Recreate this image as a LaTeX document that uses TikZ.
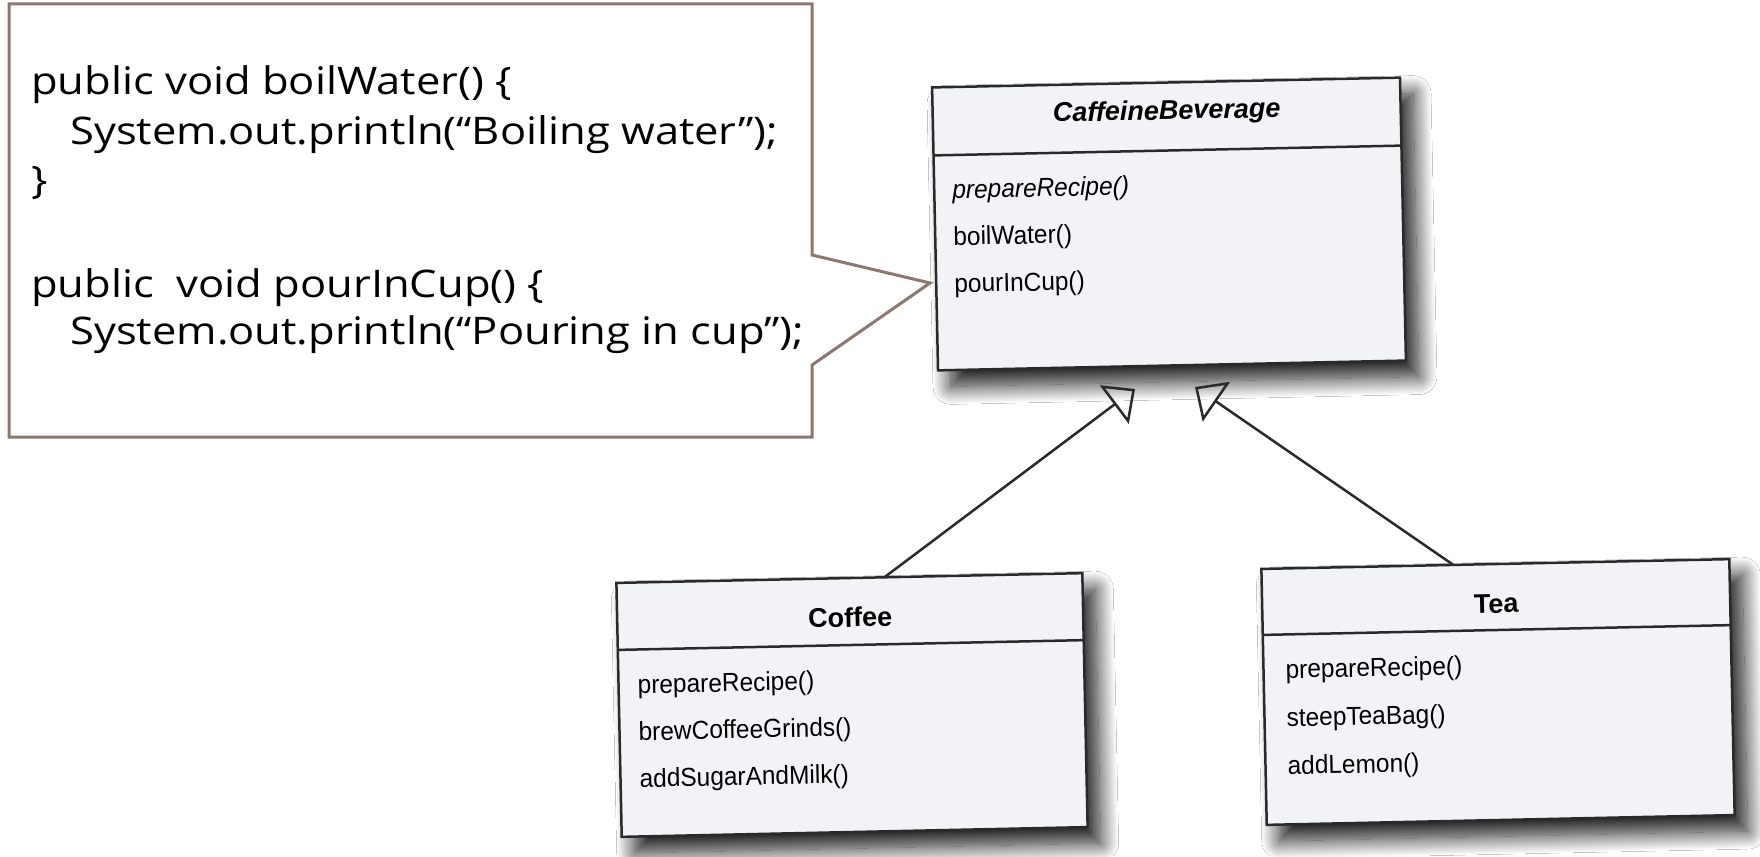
\documentclass[tikz,border=0pt]{standalone}
\usepackage{fontspec}
\setmainfont[FakeStretch=1.145]{Open Sans}
\newfontfamily\umlfont[FakeStretch=0.94]{Liberation Sans}
\newfontfamily\umltitle{Liberation Sans}
\usetikzlibrary{arrows.meta,shadows.blur}
\definecolor{calloutc}{HTML}{8C7870}
\definecolor{boxfill}{HTML}{F2F3F6}
\definecolor{boxline}{HTML}{2A2A2A}
\tikzset{
  callout/.style={draw=calloutc, line width=3pt, fill=white, line join=miter},
  codeline/.style={anchor=base west, inner sep=0pt, font=\fontsize{38}{46}\selectfont},
  classbox/.style={draw=boxline, line width=2.5pt, fill=boxfill, inner sep=0pt,
     blur shadow={shadow xshift=13pt, shadow yshift=-16pt, shadow blur radius=18pt,
                  shadow opacity=90, shadow blur steps=24}},
  sepline/.style={draw=boxline, line width=2.5pt},
  ctitle/.style={anchor=base, inner sep=0pt, font=\umltitle\bfseries\fontsize{27}{30}\selectfont},
  cmeth/.style={anchor=base west, inner sep=0pt, font=\umlfont\fontsize{26}{30}\selectfont},
  inherit/.style={draw=boxline, line width=2.5pt, -{Triangle[open, length=26pt, width=48pt, line width=2.5pt]}},
}
\begin{document}
\begin{tikzpicture}[x=1pt, y=-1pt]
\useasboundingbox[fill=white] (0,0) rectangle (1760,856);

% callout
\draw[callout] (9,4) -- (812,4) -- (812,255) -- (930,283) -- (812,365) -- (812,437) -- (9,437) -- cycle;
\node[codeline] (l1) at (31,95) {public void boilWater() \{};
\node[codeline] (l2) at (70,144) {System.out.println(“Boiling water”);};
\node[codeline] (l3) at (31,193) {\}};
\node[codeline] (l5) at (31,297) {public\hspace{0.3em}\ void pourInCup() \{};
\node[codeline] (l6) at (70,344) {System.out.println(“Pouring in cup”);};

% CaffeineBeverage
\begin{scope}[shift={(1169,224)}, rotate=1.2, transform shape]
  \node[classbox, minimum width=468pt, minimum height=283pt] (cb) at (0,0) {};
  \draw[sepline] (-234,-73.5) -- (234,-73.5);
  \node[ctitle] (cbt) at (0,-104.5) {\itshape CaffeineBeverage};
  \node[cmeth] (cbm1) at (-216,-30) {\itshape prepareRecipe()};
  \node[cmeth] (cbm2) at (-216,17) {boilWater()};
  \node[cmeth] (cbm3) at (-216,64) {pourInCup()};
\end{scope}

% Coffee
\begin{scope}[shift={(852,705)}, rotate=1.2, transform shape]
  \node[classbox, minimum width=466pt, minimum height=254pt] (coffee) at (0,0) {};
  \draw[sepline] (-233,-60) -- (233,-60);
  \node[ctitle] (cot) at (0,-78) {Coffee};
  \node[cmeth] (com1) at (-214,-16) {prepareRecipe()};
  \node[cmeth] (com2) at (-214,31) {brewCoffeeGrinds()};
  \node[cmeth] (com3) at (-214,78) {addSugarAndMilk()};
  \coordinate (cofTop) at (35,-127);
\end{scope}

% Tea
\begin{scope}[shift={(1498,692)}, rotate=1.2, transform shape]
  \node[classbox, minimum width=468pt, minimum height=256pt] (tea) at (0,0) {};
  \draw[sepline] (-234,-62) -- (234,-62);
  \node[ctitle] (tet) at (0,-79) {Tea};
  \node[cmeth] (tem1) at (-212,-18) {prepareRecipe()};
  \node[cmeth] (tem2) at (-212,30) {steepTeaBag()};
  \node[cmeth] (tem3) at (-212,78) {addLemon()};
  \coordinate (teaTop) at (-42,-128);
\end{scope}

% inheritance
\coordinate (tipL) at (1135,389);
\coordinate (tipR) at (1195,387);
\draw[inherit] (cofTop) -- (tipL);
\draw[inherit] (teaTop) -- (tipR);
\end{tikzpicture}
\end{document}
